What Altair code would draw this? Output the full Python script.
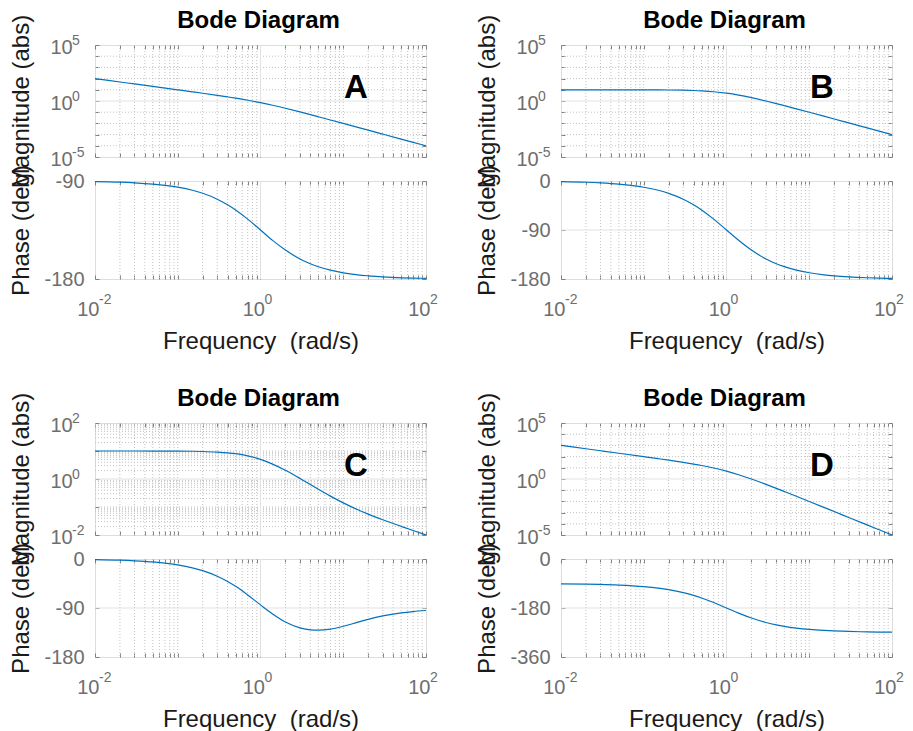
import altair as alt
import pandas as pd

# ---------------- data ----------------
freq = [0.01, 0.02, 0.03, 0.05, 0.1, 0.15, 0.2, 0.3, 0.4, 0.5, 0.7, 1, 1.4, 2, 3,
        4, 5, 7, 10, 15, 20, 30, 50, 70, 100]

mag_A = [100.0, 49.99, 33.32, 19.98, 9.950, 6.593, 4.903, 3.193, 2.321, 1.789, 1.170,
         0.7071, 0.4152, 0.2236, 0.1054, 0.06063, 0.03922, 0.02020, 0.00995, 0.004435,
         0.002497, 0.0011105, 0.0003999, 0.00020406, 0.00009999]
phase_A = [-90.6, -91.1, -91.7, -92.9, -95.7, -98.5, -101.3, -106.7, -111.8, -116.6, -125.0,
           -135.0, -144.5, -153.4, -161.6, -166.0, -168.7, -171.9, -174.3, -176.2, -177.1,
           -178.1, -178.9, -179.2, -179.4]

mag_B = [9.999, 9.996, 9.991, 9.975, 9.901, 9.780, 9.615, 9.174, 8.621, 8.0, 6.711, 5.0,
         3.378, 2.0, 1.0, 0.5882, 0.3846, 0.2, 0.09901, 0.04425, 0.02494, 0.01110,
         0.003998, 0.002040, 0.0009999]
phase_B = [-1.15, -2.29, -3.44, -5.72, -11.42, -17.06, -22.62, -33.40, -43.60, -53.13,
           -69.98, -90.0, -108.92, -126.87, -143.13, -151.93, -157.38, -163.74, -168.58,
           -172.37, -174.28, -176.18, -177.71, -178.36, -178.85]

mag_C = [9.999, 9.996, 9.991, 9.975, 9.901, 9.781, 9.617, 9.178, 8.627, 8.010, 6.728, 5.025,
         3.411, 2.040, 1.044, 0.6336, 0.4300, 0.2441, 0.1400, 0.07977, 0.05576, 0.03510,
         0.02039, 0.01443, 0.01005]
phase_C = [-1.09, -2.18, -3.27, -5.44, -10.85, -16.20, -21.47, -31.68, -41.31, -50.27,
           -65.98, -84.29, -100.96, -115.56, -126.43, -130.13, -130.82, -128.75, -123.58,
           -116.06, -110.84, -104.62, -99.02, -96.49, -94.56]

mag_D = [999.9, 499.8, 333.0, 199.5, 99.01, 65.20, 48.08, 30.58, 21.55, 16.0, 9.588, 5.0,
         2.413, 1.0, 0.3333, 0.1471, 0.07692, 0.02857, 0.009901, 0.002950, 0.001247,
         0.0003700, 0.00007997, 0.00002915, 0.000009999]
phase_D = [-91.15, -92.29, -93.44, -95.72, -101.42, -107.06, -112.62, -123.40, -133.60,
           -143.13, -159.98, -180.0, -198.92, -216.87, -233.13, -241.93, -247.38, -253.74,
           -258.58, -262.37, -264.28, -266.18, -267.71, -268.36, -268.85]

panel_letters = ["A", "B", "C", "D"]
plot_title = "Bode Diagram"
mag_title = "Magnitude (abs)"
phase_title = "Phase (deg)"
freq_title = "Frequency \u00a0(rad/s)"

# tick labels: base "10" plus a superscript exponent
x_label_values = [0.01, 1, 100]
x_label_exps = ["-2", "0", "2"]

magW_label_values = [1e-5, 1, 1e5]
magW_label_exps = ["-5", "0", "5"]
magW_decades = [1e-5, 1e-4, 1e-3, 1e-2, 1e-1, 1, 10, 100, 1e3, 1e4, 1e5]

magC_label_values = [0.01, 1, 100]
magC_label_exps = ["-2", "0", "2"]
magC_decades = [0.01, 0.1, 1, 10, 100]

phase_labels = {
    "A": ([-180, -90], ["-180", "-90"], [-180, -90]),
    "B": ([-180, -90, 0], ["-180", "-90", "0"], [-180, 0]),
    "C": ([-180, -90, 0], ["-180", "-90", "0"], [-180, 0]),
    "D": ([-360, -180, 0], ["-360", "-180", "0"], [-360, 0]),
}

grid_multipliers = [1, 2, 3, 4, 5, 6, 7, 8, 9]
x_decades = [0.01, 0.1, 1, 10]

# ---------------- styling ----------------
FONT = "Liberation Sans"
FRAME = "#808080"
LABEL = "#6e6e6e"
TITLE = "#1a1a1a"
LINE = "#0072BD"
GRID_MINOR = "#c2c2c2"
GRID_MAJOR = "#e2e2e2"
W = 331
HM = 112
HP = 98
GAP_ROW = 24
SPACER_H = 96

x_ticks = sorted(set([m * d for d in x_decades for m in grid_multipliers] + [100]))
x_minor_grid = [v for v in x_ticks if v not in (0.01, 1, 100)]
x_major_grid = [1]


def label_expr(values, texts):
    parts = [f"datum.value == {float(v)!r} ? '{t}'" for v, t in zip(values, texts)]
    return " : ".join(parts) + " : ''"


tick_common = dict(ticks=True, tickSize=4, tickColor=FRAME, tickWidth=1,
                   domain=False, grid=False, offset=-4)


def subplot(df, field, is_phase, ydomain, ylab_vals, ylab_texts, ytick_vals,
            yminor, ymajor, height, letter=None):
    xscale = alt.Scale(type="log", domain=[0.01, 100], nice=False)
    if is_phase:
        yscale = alt.Scale(type="linear", domain=ydomain, nice=False, zero=False)
    else:
        yscale = alt.Scale(type="log", domain=ydomain, nice=False)

    if is_phase:
        x_bottom = alt.Axis(orient="bottom", values=x_ticks, labels=True,
                            labelExpr=label_expr(x_label_values, ["10"] * 3),
                            labelFont=FONT, labelFontSize=20, labelColor=LABEL,
                            labelAlign="right", labelOffset=4,
                            labelPadding=20, labelFlush=False, labelOverlap=False,
                            title=freq_title, titleFont=FONT, titleFontSize=24,
                            titleFontWeight="normal", titleColor=TITLE,
                            titleX=W / 2, titleY=73, titleAlign="center",
                            titleBaseline="alphabetic", **tick_common)
        y_left = alt.Axis(orient="left", values=ytick_vals,
                          labelExpr=label_expr(ylab_vals, ylab_texts),
                          labelFont=FONT, labelFontSize=20, labelColor=LABEL,
                          labelPadding=11, labelFlush=False, labelOverlap=False,
                          title=phase_title, titleFont=FONT, titleFontSize=24,
                          titleFontWeight="normal", titleColor=TITLE, titleAngle=270,
                          titleX=-71, titleY=height / 2, titleAlign="center",
                          titleBaseline="alphabetic", **tick_common)
    else:
        x_bottom = alt.Axis(orient="bottom", values=x_ticks, labels=False,
                            title=None, **tick_common)
        y_left = alt.Axis(orient="left", values=ytick_vals,
                          labelExpr=label_expr(ylab_vals, ["10"] * len(ylab_vals)),
                          labelFont=FONT, labelFontSize=20, labelColor=LABEL,
                          labelAlign="left", labelPadding=45,
                          labelOffset=2, labelFlush=False, labelOverlap=False,
                          title=mag_title, titleFont=FONT, titleFontSize=24,
                          titleFontWeight="normal", titleColor=TITLE, titleAngle=270,
                          titleX=-71, titleY=height / 2, titleAlign="center",
                          titleBaseline="alphabetic", **tick_common)
    x_top = alt.Axis(orient="top", values=x_ticks, labels=False, title=None, **tick_common)
    y_right = alt.Axis(orient="right", values=ytick_vals, labels=False, title=None,
                       **tick_common)

    layers = []
    layers.append(alt.Chart(pd.DataFrame({"f": x_minor_grid})).mark_rule(
        color=GRID_MINOR, strokeDash=[1, 2], strokeWidth=1).encode(
        x=alt.X("f:Q", scale=xscale, axis=None)))
    if yminor:
        layers.append(alt.Chart(pd.DataFrame({"g": yminor})).mark_rule(
            color=GRID_MINOR, strokeDash=[1, 2], strokeWidth=1).encode(
            y=alt.Y("g:Q", scale=yscale, axis=None)))
    layers.append(alt.Chart(pd.DataFrame({"f": x_major_grid})).mark_rule(
        color=GRID_MAJOR, strokeWidth=1).encode(
        x=alt.X("f:Q", scale=xscale, axis=x_top)))
    layers.append(alt.Chart(pd.DataFrame({"g": ymajor if ymajor else [ydomain[0]]})).mark_rule(
        color=GRID_MAJOR, strokeWidth=1, opacity=(1 if ymajor else 0)).encode(
        y=alt.Y("g:Q", scale=yscale, axis=y_right)))
    layers.append(alt.Chart(df).mark_line(color=LINE, strokeWidth=1.2,
                                          interpolate="monotone", clip=True).encode(
        x=alt.X("freq:Q", scale=xscale, axis=x_bottom),
        y=alt.Y(f"{field}:Q", scale=yscale, axis=y_left)))
    # superscript exponents of the "10" tick labels, placed through the scales
    if is_phase:
        layers.append(alt.Chart(pd.DataFrame({"v": x_label_values, "e": x_label_exps})
                                ).mark_text(font=FONT, fontSize=14, color=LABEL,
                                            align="left", baseline="top", dx=4).encode(
            x=alt.X("v:Q", scale=xscale, axis=None), y=alt.value(height + 14),
            text="e:N"))
    else:
        layers.append(alt.Chart(pd.DataFrame({"v": ylab_vals, "e": ylab_texts})
                                ).mark_text(font=FONT, fontSize=14, color=LABEL,
                                            align="left", baseline="middle", dy=-4).encode(
            y=alt.Y("v:Q", scale=yscale, axis=None), x=alt.value(-23),
            text="e:N"))
    if letter is not None:
        layers.append(alt.Chart(pd.DataFrame({"t": [letter]})).mark_text(
            font=FONT, fontSize=33, fontWeight="bold", color="black",
            align="center", baseline="alphabetic").encode(
            text="t:N", x=alt.value(261), y=alt.value(53)))
        layers.append(alt.Chart(pd.DataFrame({"t": [plot_title]})).mark_text(
            font=FONT, fontSize=24, fontWeight="bold", color="black",
            align="center", baseline="alphabetic").encode(
            text="t:N", x=alt.value(W / 2 - 2), y=alt.value(-17)))

    return alt.layer(*layers).properties(width=W, height=height).resolve_axis(
        x="independent", y="independent")


def panel(letter, mag, phase):
    df = pd.DataFrame({"freq": freq, "mag": mag, "phase": phase})
    if letter == "C":
        mdom = [0.01, 100]
        mlv, mlt = magC_label_values, magC_label_exps
        mticks = magC_decades
        mminor = [m * d for d in magC_decades[:-1] for m in grid_multipliers]
        mminor = [v for v in mminor if v not in (0.01, 1, 100)]
    else:
        mdom = [1e-5, 1e5]
        mlv, mlt = magW_label_values, magW_label_exps
        mticks = magW_decades
        mminor = [v for v in magW_decades if v not in (1e-5, 1, 1e5)]
    mmajor = [1]
    plv, plt_, pdom = phase_labels[letter]
    pmajor = [v for v in plv if v not in pdom]
    top = subplot(df, "mag", False, mdom, mlv, mlt, mticks, mminor, mmajor, HM, letter)
    bottom = subplot(df, "phase", True, pdom, plv, plt_, plv, [], pmajor, HP)
    return top, bottom


def spacer():
    return alt.Chart(pd.DataFrame({"t": [""]})).mark_text().encode(
        text="t:N").properties(width=W, height=SPACER_H,
                               view=alt.ViewBackground(stroke="transparent"))


series = {"A": (mag_A, phase_A), "B": (mag_B, phase_B),
          "C": (mag_C, phase_C), "D": (mag_D, phase_D)}
subs = {k: panel(k, *series[k]) for k in panel_letters}

cells = [subs["A"][0], subs["B"][0], subs["A"][1], subs["B"][1],
         spacer(), spacer(),
         subs["C"][0], subs["D"][0], subs["C"][1], subs["D"][1]]

chart = alt.concat(*cells, columns=2, spacing={"row": GAP_ROW, "column": 135},
                   bounds="flush",
                   padding={"left": 0, "top": 0, "right": 0, "bottom": 0}
                   ).configure_view(stroke=FRAME, strokeWidth=1).configure(background="white")

chart.save("out.html", embed_options={"renderer": "svg", "actions": False})
